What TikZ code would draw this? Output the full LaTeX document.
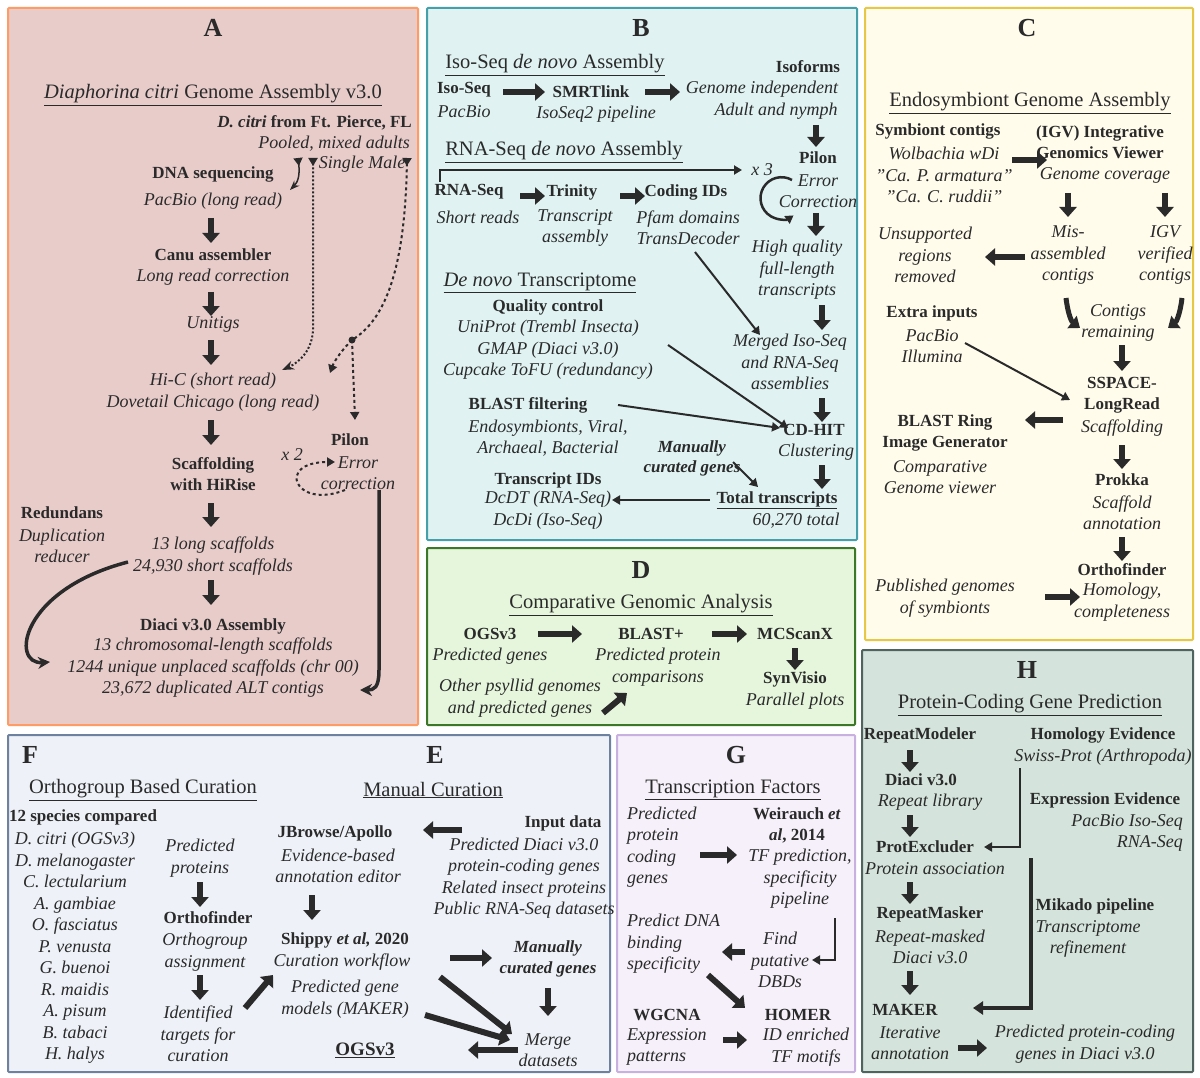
\documentclass[tikz,border=0pt]{standalone}
\usepackage{fontspec}
\setmainfont{Liberation Serif}
\usetikzlibrary{arrows.meta}
\definecolor{ink}{HTML}{2A2A2A}
\tikzset{
 t/.style={font=\fontsize{17}{21}\selectfont,align=center,inner sep=0pt,text=ink},
 b/.style={t,font=\fontsize{17}{21}\selectfont\bfseries},
 it/.style={t,font=\fontsize{18}{21.5}\selectfont\itshape},
 ti/.style={t,font=\fontsize{20.5}{24}\selectfont},
 lab/.style={t,font=\fontsize{26}{30}\selectfont\bfseries},
 fat/.style={draw=ink,line width=6pt,-{Triangle[width=17pt,length=10pt]}},
 thin/.style={draw=ink,line width=2pt,-{Triangle[width=9pt,length=8pt]}},
 panel/.style={line width=2pt,rounded corners=1pt},
}
\begin{document}
\begin{tikzpicture}[x=1pt,y=-1pt]
\useasboundingbox (0,0) rectangle (1200,1078);
\fill[white] (0,0) rectangle (1200,1078);
% panels
\draw[panel,draw=orange!70!red!60,fill={rgb,255:red,232;green,204;blue,202}] (8,8) rectangle (418,725);
\draw[panel,draw={rgb,255:red,70;green,160;blue,170},fill={rgb,255:red,224;green,242;blue,242}] (427,8) rectangle (857,540);
\draw[panel,draw={rgb,255:red,230;green,200;blue,70},fill={rgb,255:red,255;green,252;blue,236}] (865,8) rectangle (1193,640);
\draw[panel,draw={rgb,255:red,60;green,120;blue,40},fill={rgb,255:red,230;green,246;blue,220}] (427,548) rectangle (855,725);
\draw[panel,draw={rgb,255:red,80;green,100;blue,95},fill={rgb,255:red,212;green,228;blue,220}] (862,650) rectangle (1193,1072);
\draw[panel,draw={rgb,255:red,110;green,130;blue,160},fill={rgb,255:red,238;green,242;blue,248}] (8,735) rectangle (610,1072);
\draw[panel,draw={rgb,255:red,200;green,176;blue,224},fill={rgb,255:red,246;green,240;blue,250}] (617,735) rectangle (855,1072);

% ---------------- A
\node[lab] (A) at (213,28) {A};
\node[ti] (Atitle) at (213,95) {\underline{\textit{Diaphorina citri} Genome Assembly v3.0}};
\node[b,anchor=east] (a1) at (412,123) {\textit{D. citri} from Ft. Pierce, FL};
\node[it,anchor=east] (a2) at (410,144) {Pooled, mixed adults};
\node[it] (a3) at (362,164) {Single Male};
\node[b] (a4) at (213,174) {DNA sequencing};
\node[it] (a5) at (213,201) {PacBio (long read)};
\draw[fat] (211,218)--(211,243);
\node[b] (a6) at (213,255) {Canu assembler};
\node[it] (a7) at (213,277) {Long read correction};
\draw[fat] (211,292)--(211,316);
\node[it] (a8) at (213,324) {Unitigs};
\draw[fat] (211,340)--(211,365);
\node[it] (a9) at (213,392) {Hi-C (short read)\\Dovetail Chicago (long read)};
\draw[fat] (211,420)--(211,445);
\node[b] (a10) at (213,474) {Scaffolding\\with HiRise};
\draw[fat] (211,503)--(211,527);
\node[it] (a11) at (213,556) {13 long scaffolds\\24,930 short scaffolds};
\draw[fat] (211,580)--(211,605);
\node[b] (a12) at (213,626) {Diaci v3.0 Assembly};
\node[it] (a13) at (213,668) {13 chromosomal-length scaffolds\\1244 unique unplaced scaffolds (chr 00)\\23,672 duplicated ALT contigs};
\node[b] (a14) at (62,513) {Redundans};
\node[it] (a15) at (62,546) {Duplication\\reducer};
\node[b] (a16) at (350,440) {Pilon};
\node[it] (a17) at (358,473) {Error\\correction};
\node[it] (a18) at (292,455) {x 2};
\draw[ink,line width=2pt,dashed,-{Triangle[width=9pt,length=8pt]}] (345,490) .. controls (295,510) and (275,462) .. (335,462);
\draw[ink,line width=1.5pt,{Triangle[reversed,width=9pt,length=8pt]}-{Stealth}] (298,158) .. controls (300,175) and (298,182) .. (290,190);
\draw[ink,line width=2pt,dotted,{Triangle[reversed,width=9pt,length=8pt]}-{Stealth}] (313,158) -- (313,330) .. controls (312,350) and (300,362) .. (282,370);
\coordinate (br) at (352,340);
\draw[ink,line width=2pt,dashed,{Triangle[reversed,width=9pt,length=8pt]}-] (407,158) .. controls (405,270) and (385,320) .. (br);
\draw[ink,line width=2pt,dashed,-{Triangle[width=9pt,length=8pt]}] (br) .. controls (340,352) and (334,362) .. (330,373);
\draw[ink,line width=2pt,dashed,-{Triangle[width=9pt,length=8pt]}] (br) -- (355,420);
\fill[ink] (br) circle (3.5);
\draw[ink,line width=3.5pt,-{Stealth[length=12pt,width=12pt]}] (128,562) .. controls (20,590) and (10,665) .. (50,662);
\draw[ink,line width=3.5pt,-{Stealth[length=12pt,width=12pt]}] (379,490) -- (379,670) .. controls (379,688) and (374,690) .. (360,690);

% ---------------- B
\node[lab] (B) at (641,28) {B};
\node[ti] (Bt1) at (555,65) {\underline{Iso-Seq \textit{de novo} Assembly}};
\node[b] (b1) at (464,90) {Iso-Seq};
\node[it] (b2) at (464,112) {PacBio};
\draw[fat] (503,92)--(545,92);
\node[b] (b3) at (591,92) {SMRTlink};
\node[it] (b4) at (596,114) {IsoSeq2 pipeline};
\draw[fat] (645,92)--(680,92);
\node[b] (b5) at (808,67) {Isoforms};
\node[it] (b6) at (762,89) {Genome independent};
\node[it] (b7) at (776,111) {Adult and nymph};
\draw[fat] (816,125)--(816,147);
\node[ti] (Bt2) at (564,152) {\underline{RNA-Seq \textit{de novo} Assembly}};
\draw[thin] (440,182)--(440,170)--(742,170);
\node[it] (b8) at (762,170) {x 3};
\node[b] (b9) at (818,158) {Pilon};
\node[it] (b10) at (818,191) {Error\\Correction};
\draw[ink,line width=2.5pt,-{Triangle[width=9pt,length=8pt]}] (792,180) arc (-60:-305:21);
\node[b] (b11) at (469,192) {RNA-Seq};
\node[it] (b12) at (478,217) {Short reads};
\draw[fat] (520,196)--(545,196);
\node[b] (b13) at (572,192) {Trinity};
\node[it] (b14) at (575,228) {Transcript\\assembly};
\draw[fat] (620,196)--(645,196);
\node[b] (b15) at (686,192) {Coding IDs};
\node[it] (b16) at (688,228) {Pfam domains\\TransDecoder};
\draw[fat] (816,213)--(816,236);
\node[it] (b17) at (797,270) {High quality\\full-length\\transcripts};
\draw[thin] (695,252)--(760,335);
\draw[fat] (822,305)--(822,330);
\node[it] (b18) at (790,362) {Merged Iso-Seq\\and RNA-Seq\\assemblies};
\node[ti] (Bt3) at (540,283) {\underline{\textit{De novo} Transcriptome}};
\node[b] (b19) at (548,307) {Quality control};
\node[it] (b20) at (548,350) {UniProt (Trembl Insecta)\\GMAP (Diaci v3.0)\\Cupcake ToFU (redundancy)};
\draw[thin] (668,345)--(788,428);
\draw[fat] (822,398)--(822,422);
\node[b] (b21) at (528,405) {BLAST filtering};
\node[it] (b22) at (548,438) {Endosymbionts, Viral,\\Archaeal, Bacterial};
\draw[thin] (618,405)--(780,428);
\node[b] (b23) at (814,430) {CD-HIT};
\node[it] (b24) at (816,452) {Clustering};
\draw[fat] (822,465)--(822,489);
\node[b,font=\fontsize{17}{20}\selectfont\bfseries\itshape] (b25) at (692,458) {Manually\\curated genes};
\draw[thin] (733,462)--(758,487);
\node[b] (b26) at (548,480) {Transcript IDs};
\node[it] (b27) at (548,510) {DcDT (RNA-Seq)\\DcDi (Iso-Seq)};
\draw[thin] (710,500)--(612,500);
\node[b] (b28) at (777,500) {\underline{Total transcripts}};
\node[it] (b29) at (796,521) {60,270 total};

% ---------------- C
\node[lab] (C) at (1027,28) {C};
\node[ti] (Ct) at (1030,103) {\underline{Endosymbiont Genome Assembly}};
\node[b] (c1) at (938,131) {Symbiont contigs};
\node[it] (c2) at (944,175) {Wolbachia wDi\\"Ca. P. armatura"\\"Ca. C. ruddii"};
\draw[fat] (1012,160)--(1047,160);
\node[b] (c3) at (1100,142) {(IGV) Integrative\\Genomics Viewer};
\node[it] (c4) at (1105,175) {Genome coverage};
\draw[fat] (1068,193)--(1068,217);
\draw[fat] (1165,193)--(1165,217);
\node[it] (c5) at (925,255) {Unsupported\\regions\\removed};
\draw[fat] (1025,257)--(985,257);
\node[it] (c6) at (1068,255) {Mis-\\assembled\\contigs};
\node[it] (c7) at (1165,255) {IGV\\verified\\contigs};
\node[b] (c8) at (932,313) {Extra inputs};
\node[it] (c9) at (932,346) {PacBio\\Illumina};
\node[it] (c10) at (1118,323) {Contigs\\remaining};
\draw[ink,line width=5pt,-{Triangle[width=15pt,length=10pt]}] (1066,298) .. controls (1068,315) and (1072,322) .. (1080,328);
\draw[ink,line width=5pt,-{Triangle[width=15pt,length=10pt]}] (1182,298) .. controls (1180,315) and (1176,322) .. (1168,328);
\draw[thin] (965,343)--(1070,400);
\draw[fat] (1122,345)--(1122,371);
\node[b] (c11) at (1122,395) {SSPACE-\\LongRead};
\node[it] (c12) at (1122,428) {Scaffolding};
\draw[fat] (1063,420)--(1025,420);
\node[b] (c13) at (945,433) {BLAST Ring\\Image Generator};
\node[it] (c14) at (940,477) {Comparative\\Genome viewer};
\draw[fat] (1122,445)--(1122,469);
\node[b] (c15) at (1122,480) {Prokka};
\node[it] (c16) at (1122,513) {Scaffold\\annotation};
\draw[fat] (1122,537)--(1122,561);
\node[b] (c17) at (1122,570) {Orthofinder};
\node[it] (c18) at (1122,602) {Homology,\\completeness};
\node[it] (c19) at (945,598) {Published genomes\\of symbionts};
\draw[fat] (1045,597)--(1080,597);

% ---------------- D
\node[lab] (D) at (641,570) {D};
\node[ti] (Dt) at (641,605) {\underline{Comparative Genomic Analysis}};
\node[b] (d1) at (490,634) {OGSv3};
\node[it] (d2) at (490,656) {Predicted genes};
\draw[fat] (538,634)--(582,634);
\node[b] (d3) at (651,634) {BLAST+};
\node[it] (d4) at (658,667) {Predicted protein\\comparisons};
\draw[fat] (712,634)--(747,634);
\node[b] (d5) at (795,634) {MCScanX};
\draw[fat] (795,648)--(795,670);
\node[b] (d6) at (795,679) {SynVisio};
\node[it] (d7) at (795,701) {Parallel plots};
\node[it] (d8) at (520,698) {Other psyllid genomes\\and predicted genes};
\draw[fat] (603,713)--(627,693);

% ---------------- F / E
\node[lab] (F) at (30,755) {F};
\node[lab] (E) at (435,755) {E};
\node[ti] (Ft) at (143,790) {\underline{Orthogroup Based Curation}};
\node[ti] (Et) at (433,790) {\underline{Manual Curation}};
\node[b] (f1) at (83,817) {12 species compared};
\node[it] (f2) at (75,948) {D. citri (OGSv3)\\D. melanogaster\\C. lectularium\\A. gambiae\\O. fasciatus\\P. venusta\\G. buenoi\\R. maidis\\A. pisum\\B. tabaci\\H. halys};
\node[it] (f3) at (200,858) {Predicted\\proteins};
\draw[fat] (200,882)--(200,907);
\node[b] (f4) at (208,918) {Orthofinder};
\node[it] (f5) at (205,952) {Orthogroup\\assignment};
\draw[fat] (200,975)--(200,1000);
\node[it] (f6) at (198,1034) {Identified\\targets for\\curation};
\draw[fat] (245,1008)--(273,975);
\node[b] (e1) at (335,833) {JBrowse/Apollo};
\node[it] (e2) at (338,866) {Evidence-based\\annotation editor};
\draw[fat] (462,830)--(423,830);
\node[b] (e3) at (563,823) {Input data};
\node[it] (e4) at (524,878) {Predicted Diaci v3.0\\protein-coding genes\\Related insect proteins\\Public RNA-Seq datasets};
\draw[fat] (312,895)--(312,920);
\node[b] (e5) at (345,940) {Shippy \textit{et al,} 2020};
\node[it] (e6) at (342,962) {Curation workflow};
\draw[fat] (450,958)--(492,958);
\node[b,font=\fontsize{17}{21}\selectfont\bfseries\itshape] (e7) at (548,959) {Manually\\curated genes};
\draw[fat] (548,988)--(548,1016);
\node[it] (e8) at (548,1050) {Merge\\datasets};
\node[it] (e9) at (345,999) {Predicted gene\\models (MAKER)};
\draw[fat] (440,977)--(512,1034);
\draw[fat] (425,1015)--(510,1040);
\node[b,font=\fontsize{19}{21}\selectfont\bfseries] (e10) at (365,1050) {\underline{OGSv3}};
\draw[fat] (518,1050)--(468,1050);

% ---------------- G
\node[lab] (G) at (736,755) {G};
\node[ti] (Gt) at (733,790) {\underline{Transcription Factors}};
\node[it,align=left,anchor=west] (g1) at (627,847) {Predicted\\protein\\coding\\genes};
\draw[fat] (700,855)--(737,855);
\node[b] (g2) at (797,825) {Weirauch \textit{et}\\\textit{al}, 2014};
\node[it] (g3) at (800,879) {TF prediction,\\specificity\\pipeline};
\draw[thin] (835,918)--(835,960)--(812,960);
\node[it] (g4) at (780,960) {Find\\putative\\DBDs};
\draw[fat] (745,952)--(722,952);
\node[it,align=left,anchor=west] (g5) at (627,944) {Predict DNA\\binding\\specificity};
\draw[fat] (708,975)--(745,1008);
\node[b] (g6) at (667,1015) {WGCNA};
\node[it,align=left,anchor=west] (g7) at (627,1047) {Expression\\patterns};
\draw[fat] (723,1040)--(747,1040);
\node[b] (g8) at (798,1015) {HOMER};
\node[it] (g9) at (806,1047) {ID enriched\\TF motifs};

% ---------------- H
\node[lab] (H) at (1027,670) {H};
\node[ti] (Ht) at (1030,705) {\underline{Protein-Coding Gene Prediction}};
\node[b] (h1) at (920,735) {RepeatModeler};
\node[b] (h2) at (1103,735) {Homology Evidence};
\node[it] (h3) at (1103,757) {Swiss-Prot (Arthropoda)};
\draw[fat] (910,750)--(910,772);
\node[b] (h4) at (921,780) {Diaci v3.0};
\node[it] (h5) at (930,802) {Repeat library};
\node[b] (h6) at (1105,800) {Expression Evidence};
\node[it,align=right,anchor=east] (h7) at (1183,833) {PacBio Iso-Seq\\RNA-Seq};
\draw[fat] (910,815)--(910,837);
\draw[thin] (1020,768)--(1020,847)--(984,847);
\node[b] (h8) at (925,847) {ProtExcluder};
\node[it] (h9) at (935,869) {Protein association};
\draw[fat] (910,882)--(910,904);
\node[b] (h10) at (930,914) {RepeatMasker};
\node[it] (h11) at (930,947) {Repeat-masked\\Diaci v3.0};
\draw[fat] (910,971)--(910,995);
\node[b] (h12) at (905,1010) {MAKER};
\node[it] (h13) at (910,1043) {Iterative\\annotation};
\node[b] (h14) at (1095,906) {Mikado pipeline};
\node[it] (h15) at (1088,939) {Transcriptome\\refinement};
\draw[ink,line width=4pt,-{Triangle[width=13pt,length=10pt]}] (1031,858)--(1031,1008)--(973,1008);
\draw[fat] (958,1048)--(987,1048);
\node[it] (h16) at (1085,1044) {Predicted protein-coding\\genes in Diaci v3.0};
\end{tikzpicture}
\end{document}
